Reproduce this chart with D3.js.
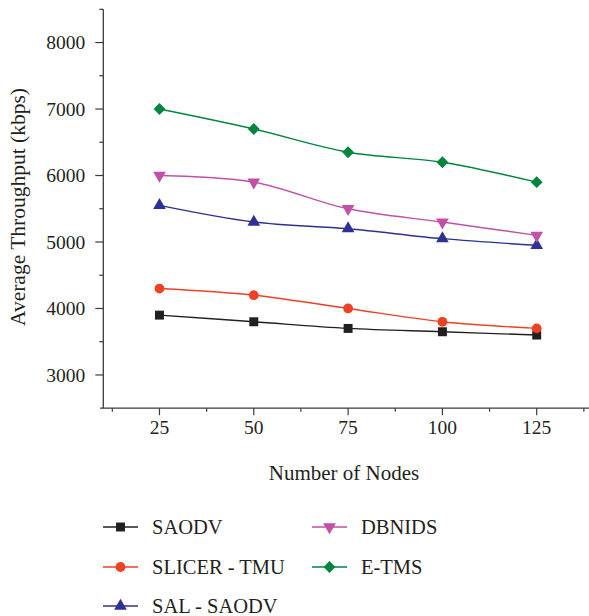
<!DOCTYPE html>
<html><head><meta charset="utf-8">
<script src="https://cdn.jsdelivr.net/npm/d3@7"></script>
<style>body{margin:0;background:#fff}svg{display:block}text{font-family:"Liberation Serif","Times New Roman",serif;fill:#231f20}</style>
</head><body><svg id="c" width="589" height="616"></svg>
<script>
const nodes = [25, 50, 75, 100, 125];
const saodv = [3900, 3800, 3700, 3650, 3600];
const slicer = [4300, 4200, 4000, 3800, 3700];
const salSaodv = [5550, 5300, 5200, 5050, 4950];
const dbnids = [6000, 5900, 5500, 5300, 5100];
const etms = [7000, 6700, 6350, 6200, 5900];
const seriesNames = ["SAODV", "SLICER - TMU", "SAL - SAODV", "DBNIDS", "E-TMS"];
const yTicks = [3000, 4000, 5000, 6000, 7000, 8000];
const yMinor = [3500, 4500, 5500, 6500, 7500, 8500];
const xMinor = [12.5, 37.5, 62.5, 87.5, 112.5, 137.5];

const series = [
  {name: seriesNames[0], values: saodv, color: "#231f20", symbol: d3.symbolSquare, size: 80, rot: 0},
  {name: seriesNames[1], values: slicer, color: "#ef4123", symbol: d3.symbolCircle, size: 75, rot: 0},
  {name: seriesNames[2], values: salSaodv, color: "#2e3192", symbol: d3.symbolTriangle, size: 70, rot: 0},
  {name: seriesNames[3], values: dbnids, color: "#c450a6", symbol: d3.symbolTriangle, size: 70, rot: 180},
  {name: seriesNames[4], values: etms, color: "#00853f", symbol: d3.symbolSquare, size: 70, rot: 45}
];

const svg = d3.select("#c");
const x = d3.scaleLinear().domain([10, 140]).range([102.9, 593.3]);
const y = d3.scaleLinear().domain([2500, 8500]).range([408.2, 9.3]);
const axisColor = "#3a3a3a";

// X axis
const gx = svg.append("g").attr("transform", "translate(0,408.2)");
gx.append("line").attr("x1", 100).attr("x2", 589).attr("stroke", axisColor).attr("stroke-width", 1.3);
gx.selectAll(".mj").data(nodes).join("line").attr("x1", d => x(d)).attr("x2", d => x(d)).attr("y1", 0).attr("y2", 7).attr("stroke", axisColor).attr("stroke-width", 1.2);
gx.selectAll(".mn").data(xMinor).join("line").attr("class","mn").attr("x1", d => x(d)).attr("x2", d => x(d)).attr("y1", 0).attr("y2", 3.5).attr("stroke", axisColor).attr("stroke-width", 1.2);
gx.selectAll("text").data(nodes).join("text").attr("x", d => x(d)).attr("y", 26).attr("text-anchor", "middle").style("font-size", "19.5px").text(d => d);

// Y axis
const gy = svg.append("g").attr("transform", "translate(103.3,0)");
gy.append("line").attr("y1", 9.3).attr("y2", 408.2).attr("stroke", axisColor).attr("stroke-width", 1.3);
gy.selectAll(".mj").data(yTicks).join("line").attr("class","mj").attr("y1", d => y(d)).attr("y2", d => y(d)).attr("x1", 0).attr("x2", -8).attr("stroke", axisColor).attr("stroke-width", 1.2);
gy.selectAll(".mn").data(yMinor).join("line").attr("class","mn").attr("y1", d => y(d)).attr("y2", d => y(d)).attr("x1", 0).attr("x2", -4).attr("stroke", axisColor).attr("stroke-width", 1.2);
gy.selectAll("text").data(yTicks).join("text").attr("x", -18).attr("y", d => y(d)).attr("dy", "0.35em").attr("text-anchor", "end").style("font-size", "19.5px").text(d => d);

// Axis titles
svg.append("text").attr("x", 344).attr("y", 480).attr("text-anchor", "middle").style("font-size", "21px").text("Number of Nodes");
svg.append("text").attr("transform", "translate(25,207) rotate(-90)").attr("text-anchor", "middle").style("font-size", "21.5px").text("Average Throughput (kbps)");

// Lines
const line = d3.line().x((d, i) => x(nodes[i])).y(d => y(d)).curve(d3.curveCatmullRom.alpha(0.5));
series.forEach(s => {
  svg.append("path").attr("d", line(s.values)).attr("fill", "none").attr("stroke", s.color).attr("stroke-width", 1.4);
});
series.forEach(s => {
  svg.append("g").selectAll("path").data(s.values).join("path")
    .attr("d", d3.symbol().type(s.symbol).size(s.size))
    .attr("transform", (d, i) => `translate(${x(nodes[i])},${y(d)}) rotate(${s.rot})`)
    .attr("fill", s.color);
});

// Legend
const legendPos = [
  {lx: 103, ly: 527}, {lx: 103, ly: 567}, {lx: 103, ly: 606},
  {lx: 312, ly: 527}, {lx: 312, ly: 567}
];
series.forEach((s, i) => {
  const p = legendPos[i];
  const g = svg.append("g").attr("transform", `translate(${p.lx},${p.ly})`);
  g.append("line").attr("x1", 0).attr("x2", 35).attr("stroke", s.color).attr("stroke-width", 1.4);
  g.append("path").attr("d", d3.symbol().type(s.symbol).size(s.size)).attr("transform", `translate(17.5,0) rotate(${s.rot})`).attr("fill", s.color);
  g.append("text").attr("x", 49).attr("y", 0).attr("dy", "0.35em").style("font-size", "20.5px").text(s.name);
});
</script></body></html>
